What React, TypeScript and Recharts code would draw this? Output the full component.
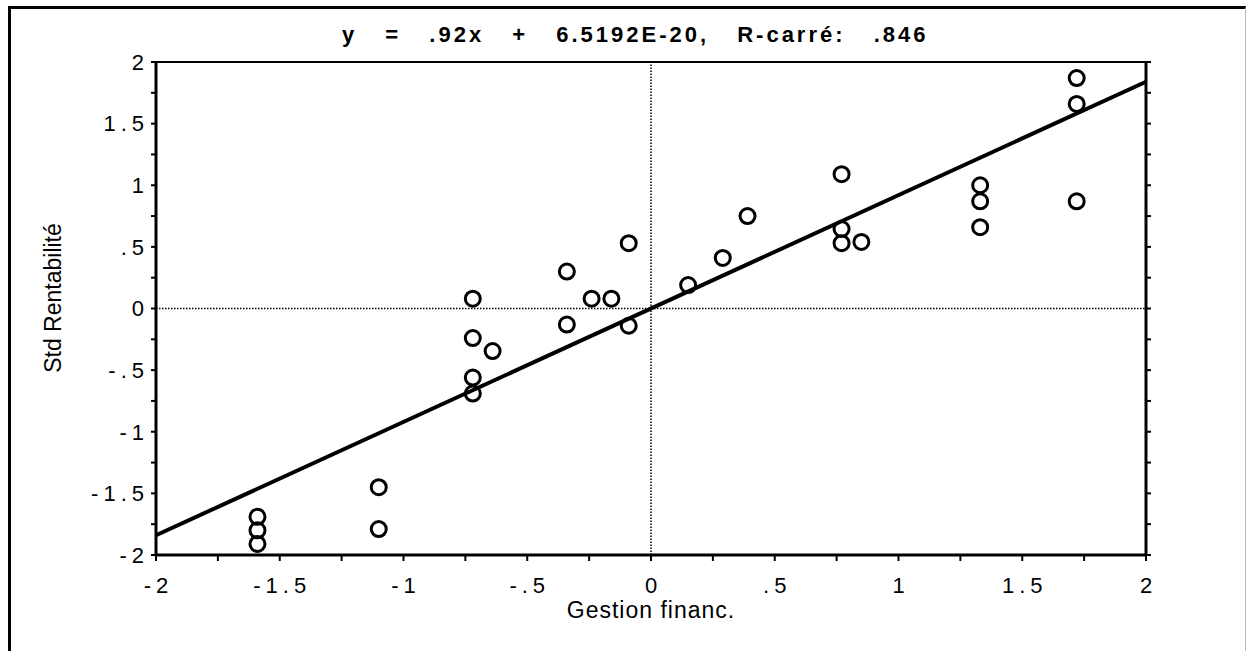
import {
  ScatterChart,
  Scatter,
  XAxis,
  YAxis,
  ReferenceLine,
} from 'recharts';

// Standardised scores
const gestionFinanc = [
  -1.59, -1.59, -1.59, -1.1, -1.1,
  -0.72, -0.72, -0.72, -0.72, -0.64,
  -0.34, -0.34, -0.24, -0.16, -0.09, -0.09,
  0.15, 0.29, 0.39,
  0.77, 0.77, 0.77, 0.85,
  1.33, 1.33, 1.33,
  1.72, 1.72, 1.72,
];
const stdRentabilite = [
  -1.69, -1.8, -1.91, -1.45, -1.79,
  0.08, -0.24, -0.56, -0.69, -0.345,
  0.3, -0.13, 0.08, 0.08, 0.53, -0.14,
  0.19, 0.41, 0.75,
  1.09, 0.645, 0.53, 0.54,
  1.0, 0.87, 0.66,
  1.87, 1.66, 0.87,
];

// regression fit shown in the title
const slope = 0.92;
const intercept = 6.5192e-20;
const rSquared = 0.846;

const axisTicks = [-2, -1.75, -1.5, -1.25, -1, -0.75, -0.5, -0.25, 0, 0.25, 0.5, 0.75, 1, 1.25, 1.5, 1.75, 2];
const domain: [number, number] = [-2, 2];

const points = gestionFinanc.map((x, i) => ({ x, y: stdRentabilite[i] }));
const fitLine = domain.map((x) => ({ x, y: slope * x + intercept }));

const FONT = '"Liberation Sans", Arial, Helvetica, sans-serif';

const fmtTick = (v: number) => {
  if (Math.abs(v * 2 - Math.round(v * 2)) > 1e-9) return '';
  return String(v).replace('0.', '.');
};

const tickStyle = { fontSize: 22, fill: '#000', fontFamily: FONT, letterSpacing: 5 };

const Ring = (props: any) => (
  <circle cx={props.cx} cy={props.cy} r={7.5} fill="none" stroke="#000" strokeWidth={3} />
);

const App = () => {
  return (
    <div style={{ position: 'absolute', left: 0, top: 0, width: 1248, height: 651, background: '#fff', fontFamily: FONT }}>
      {/* outer frame */}
      <div
        style={{
          position: 'absolute',
          left: 8,
          top: 6,
          width: 1234,
          height: 660,
          borderTop: '3px solid #000',
          borderLeft: '3px solid #000',
          borderRight: '1px solid #bbb',
        }}
      />

      {/* title */}
      <div
        style={{
          position: 'absolute',
          left: 342,
          top: 23.5,
          fontSize: 22,
          lineHeight: 1,
          fontWeight: 'bold',
          letterSpacing: 3,
          wordSpacing: 19,
          whiteSpace: 'pre',
        }}
      >
        {`y = .92x + 6.5192E-20, R-carré: ${String(rSquared).replace('0.', '.')}`}
      </div>

      <div style={{ position: 'absolute', left: 0, top: 0 }}>
        <ScatterChart width={1248} height={651} margin={{ top: 61, right: 101, bottom: 0, left: 0 }}>
          <XAxis
            xAxisId="bottom"
            type="number"
            dataKey="x"
            domain={domain}
            ticks={axisTicks}
            allowDataOverflow
            height={96}
            axisLine={{ stroke: '#000', strokeWidth: 3 }}
            tickLine={{ stroke: '#000', strokeWidth: 2 }}
            tickSize={6}
            tickMargin={16}
            tick={{ ...tickStyle, dx: 2.5 }}
            tickFormatter={fmtTick}
            interval={0}
          />
          <XAxis
            xAxisId="top"
            orientation="top"
            type="number"
            domain={domain}
            ticks={axisTicks}
            allowDataOverflow
            height={1}
            axisLine={{ stroke: '#000', strokeWidth: 2 }}
            tickLine={{ stroke: '#000', strokeWidth: 2 }}
            tickSize={4}
            tickFormatter={() => ''}
            interval={0}
          />
          <YAxis
            yAxisId="left"
            type="number"
            dataKey="y"
            domain={domain}
            ticks={axisTicks}
            allowDataOverflow
            width={156}
            axisLine={{ stroke: '#000', strokeWidth: 3 }}
            tickLine={{ stroke: '#000', strokeWidth: 2 }}
            tickSize={5}
            tickMargin={2}
            tick={tickStyle}
            tickFormatter={fmtTick}
            interval={0}
          />
          <YAxis
            yAxisId="right"
            orientation="right"
            type="number"
            domain={domain}
            ticks={axisTicks}
            allowDataOverflow
            width={1}
            axisLine={{ stroke: '#000', strokeWidth: 3 }}
            tickLine={{ stroke: '#000', strokeWidth: 2 }}
            tickSize={5}
            tickFormatter={() => ''}
            interval={0}
          />
          {/* dotted zero lines */}
          <ReferenceLine xAxisId="bottom" yAxisId="left" x={0} stroke="#000" strokeWidth={1.5} strokeDasharray="1.5 1.5" />
          <ReferenceLine xAxisId="bottom" yAxisId="left" y={0} stroke="#000" strokeWidth={1.5} strokeDasharray="1.5 1.5" />
          <Scatter
            xAxisId="bottom"
            yAxisId="left"
            data={points}
            shape={Ring}
            isAnimationActive={false}
          />
          {/* regression line */}
          <ReferenceLine
            xAxisId="bottom"
            yAxisId="left"
            segment={fitLine}
            stroke="#000"
            strokeWidth={4}
          />
        </ScatterChart>
      </div>

      {/* axis titles */}
      <div
        style={{
          position: 'absolute',
          left: 451,
          width: 400,
          top: 599,
          textAlign: 'center',
          fontSize: 23,
          lineHeight: 1,
          letterSpacing: 1,
        }}
      >
        Gestion financ.
      </div>
      <div
        style={{
          position: 'absolute',
          left: 53 - 150,
          top: 298 - 12,
          width: 300,
          textAlign: 'center',
          fontSize: 23,
          lineHeight: '24px',
          transform: 'rotate(-90deg)',
        }}
      >
        Std Rentabilité
      </div>
    </div>
  );
};

export default App;
